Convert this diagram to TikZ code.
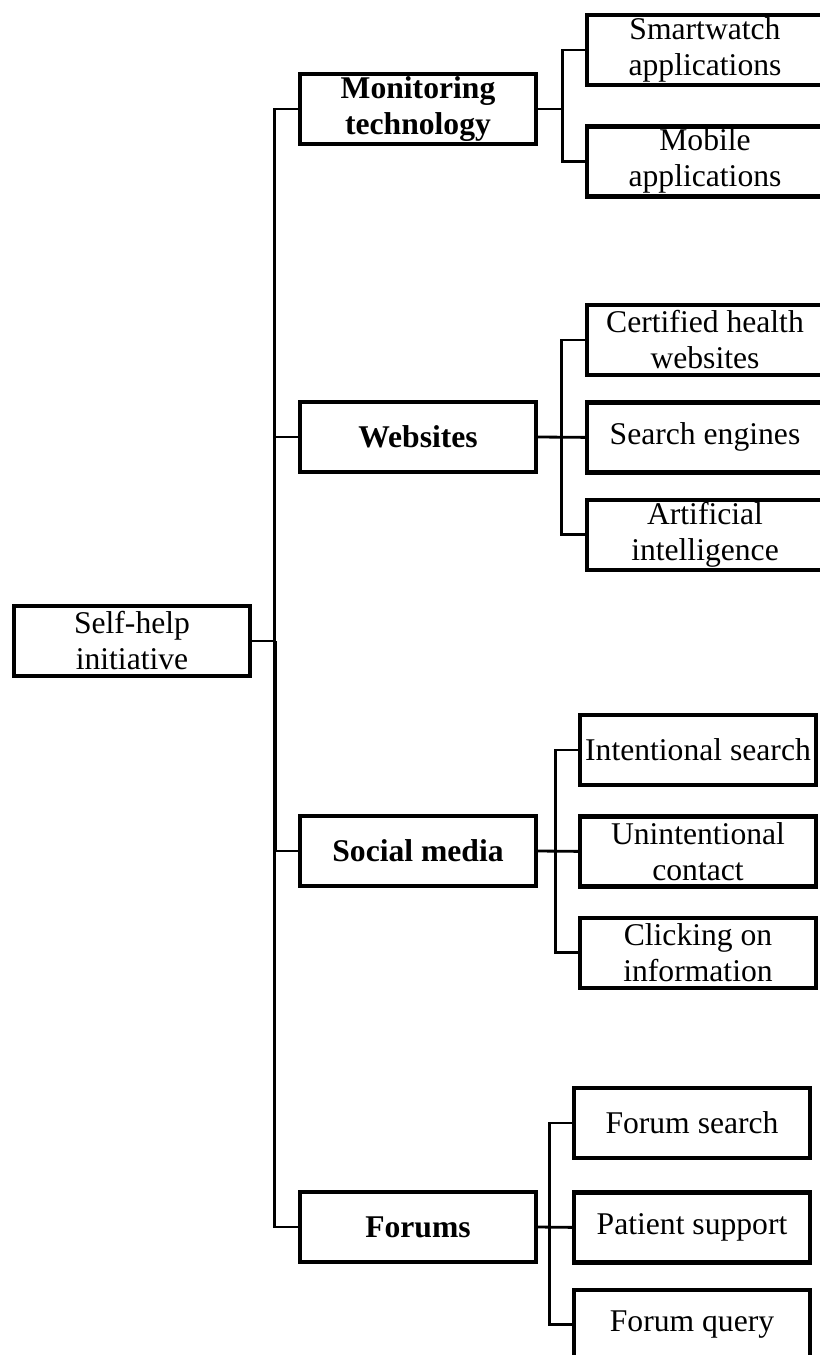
\documentclass[tikz,border=0pt]{standalone}
\usepackage{fontspec}
\setmainfont{Liberation Serif}
\usetikzlibrary{positioning}
\tikzset{
  box/.style={
    draw,
    rectangle,
    line width=2.5pt,
    minimum width=4.72cm,
    minimum height=1.4cm,
    inner sep=1pt,
    align=center,
    font=\fontsize{18}{20.5}\selectfont
  },
  topic/.style={
    box,
    font=\fontsize{18}{20.5}\selectfont\bfseries
  },
  link/.style={
    draw,
    line width=1.6pt
  }
}

\begin{document}
\begin{tikzpicture}[x=0.02cm, y=-0.02cm]
    \useasboundingbox (0,0) rectangle (820,1355);

    \node[box] (root) at (132,641) {Self-help\\initiative};
    \node[topic] (mon) at (418,109) {Monitoring\\technology};
    \node[topic] (web) at (418,437) {Websites};
    \node[topic] (soc) at (418,851) {Social media};
    \node[topic] (forum) at (418,1227) {Forums};

    \node[box] (watch) at (705,50) {Smartwatch\\applications};
    \node[box, below=0.74cm of watch] (mobile) {Mobile\\applications};

    \node[box] (cert) at (705,340) {Certified health\\websites};
    \node[box, below=0.46cm of cert] (engine) {Search engines};
    \node[box, below=0.46cm of engine] (ai) {Artificial\\intelligence};

    \node[box] (intent) at (698,750) {Intentional search};
    \node[box, below=0.54cm of intent] (unintent) {Unintentional\\contact};
    \node[box, below=0.54cm of unintent] (click) {Clicking on\\information};

    \node[box] (fsearch) at (692,1123) {Forum search};
    \node[box, below=0.6cm of fsearch] (support) {Patient support};
    \node[box, below=0.46cm of support] (query) {Forum query};

    % main trunk
    \draw[link] (mon.west) -- ++(-23,0) |- (forum.west);
    \draw[link] (web.west) -- ++(-23,0);
    \draw[link] (soc.west) -- ++(-23,0);
    \draw[link] (root.east) -- ++(23,0) coordinate (rj);
    \draw[link, line width=2.4pt] (rj) -- (rj |- soc.west);

    % brackets
    \draw[link] (mon.east) -- ++(24,0) coordinate (b1);
    \draw[link] (watch.west) -| (b1) |- (mobile.west);

    \draw[link] (web.east) -- (engine.west);
    \draw[link] (cert.west) -- ++(-23,0) |- (ai.west);

    \draw[link] (soc.east) -- (unintent.west);
    \draw[link] (intent.west) -- ++(-22,0) |- (click.west);

    \draw[link] (forum.east) -- (support.west);
    \draw[link] (fsearch.west) -- ++(-22,0) |- (query.west);
\end{tikzpicture}
\end{document}
